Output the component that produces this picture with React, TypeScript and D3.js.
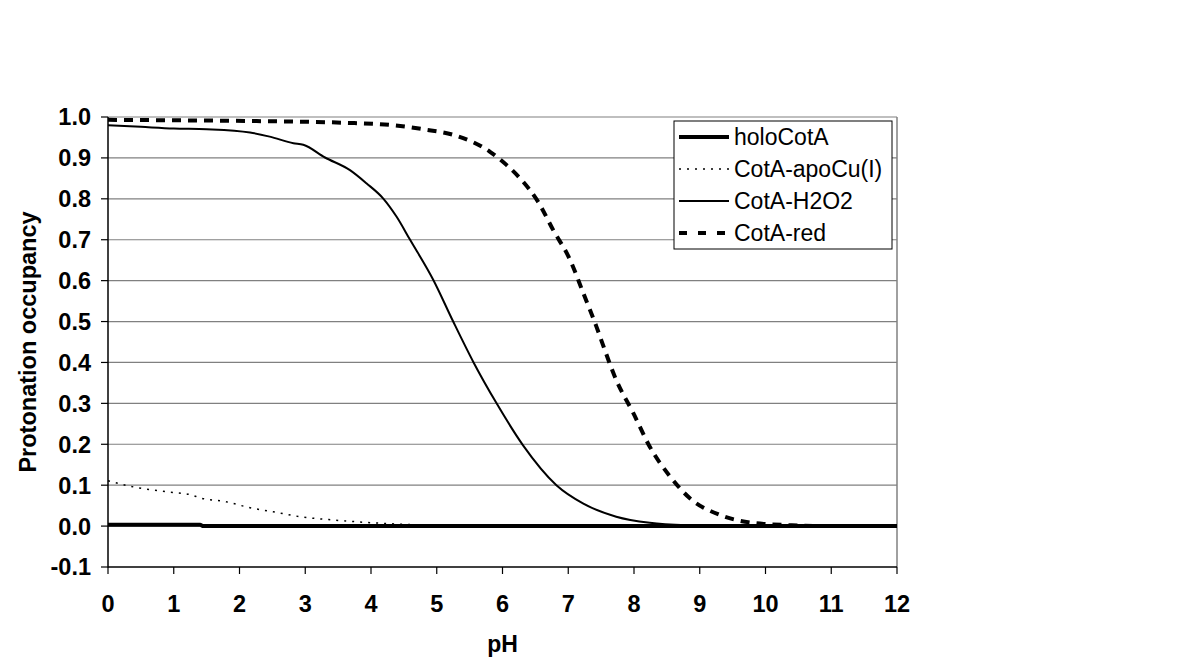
import React from "react";
import * as d3 from "d3";

const yTicks = [-0.1, 0, 0.1, 0.2, 0.3, 0.4, 0.5, 0.6, 0.7, 0.8, 0.9, 1.0];
const xTicks = [0, 1, 2, 3, 4, 5, 6, 7, 8, 9, 10, 11, 12];

const holoPH = [0, 1.4, 1.45, 12];
const holoVal = [0.003, 0.003, 0.0, 0.0];

const apoPH = [0, 0.41, 0.89, 1.27, 1.4, 1.78, 2.16, 2.51, 2.92, 3.42, 3.93, 4.39, 5.0, 6.0, 12];
const apoVal = [0.111, 0.095, 0.084, 0.076, 0.069, 0.06, 0.045, 0.035, 0.023, 0.015, 0.009, 0.005, 0.002, 0.0, 0.0];

const h2o2PH = [0, 0.5, 1, 1.5, 2.16, 2.46, 2.82, 2.97, 3.3, 3.68, 3.93, 4.19, 4.39, 4.59, 4.95, 5.25, 5.56, 5.91, 6.31, 6.82, 7.23, 7.73, 8.24, 8.8, 9.5, 12];
const h2o2Val = [0.98, 0.976, 0.972, 0.97, 0.962, 0.952, 0.936, 0.932, 0.901, 0.87, 0.838, 0.8, 0.756, 0.701, 0.601, 0.5, 0.4, 0.3, 0.198, 0.1, 0.055, 0.023, 0.008, 0.002, 0.0, 0.0];

const redPH = [0, 1, 2.26, 3.57, 4.34, 4.8, 5.3, 5.81, 6.06, 6.29, 6.54, 6.77, 7.03, 7.23, 7.43, 7.51, 7.73, 7.99, 8.24, 8.55, 8.85, 9.31, 9.81, 10.4, 10.9, 12];
const redVal = [0.993, 0.992, 0.99, 0.986, 0.98, 0.97, 0.954, 0.915, 0.883, 0.846, 0.793, 0.724, 0.65, 0.569, 0.487, 0.451, 0.357, 0.276, 0.194, 0.121, 0.068, 0.027, 0.008, 0.002, 0.0, 0.0];

const seriesNames = ["holoCotA", "CotA-apoCu(I)", "CotA-H2O2", "CotA-red"];

export default function App() {
  const left = 108, right = 897, top = 117, bottom = 567;
  const x = d3.scaleLinear().domain([0, 12]).range([left, right]);
  const y = d3.scaleLinear().domain([-0.1, 1.0]).range([bottom, top]);
  const mk = (xs: number[], ys: number[]) =>
    d3.line<number>().x((_, i) => x(xs[i])).y((_, i) => y(ys[i])).curve(d3.curveMonotoneX)(xs) || "";

  const styles = [
    { w: 4, dash: "none" },
    { w: 1.5, dash: "2,6" },
    { w: 2, dash: "none" },
    { w: 4, dash: "9,7" },
  ];
  const paths = [
    mk(holoPH, holoVal),
    mk(apoPH, apoVal),
    mk(h2o2PH, h2o2Val),
    mk(redPH, redVal),
  ];
  const font = "Liberation Sans, Arial, sans-serif";
  const lgX = 674, lgY = 121, lgW = 218, lgH = 128;

  return (
    <div style={{ position: "absolute", left: 0, top: 0 }}>
      <svg width={1200} height={668} style={{ display: "block", background: "#fff" }}>
        {yTicks.filter((t) => t > -0.05).map((t) => (
          <line key={"g" + t} x1={left} x2={right} y1={y(t)} y2={y(t)} stroke="#808080" strokeWidth={1.2} />
        ))}
        <line x1={right} x2={right} y1={top} y2={bottom} stroke="#808080" strokeWidth={1.5} />
        <line x1={left} x2={left} y1={top} y2={bottom + 0.5} stroke="#000" strokeWidth={1.5} />
        <line x1={left} x2={right} y1={bottom} y2={bottom} stroke="#000" strokeWidth={1.5} />
        {yTicks.map((t) => (
          <g key={"y" + t}>
            <line x1={left - 7} x2={left} y1={y(t)} y2={y(t)} stroke="#000" strokeWidth={1.2} />
            <text x={left - 17} y={y(t)} dy="0.36em" textAnchor="end" fontFamily={font} fontWeight="bold" fontSize={23.5}>
              {t.toFixed(1)}
            </text>
          </g>
        ))}
        {xTicks.map((t) => (
          <g key={"x" + t}>
            <line x1={x(t)} x2={x(t)} y1={bottom} y2={bottom + 7} stroke="#000" strokeWidth={1.2} />
            <text x={x(t)} y={612} textAnchor="middle" fontFamily={font} fontWeight="bold" fontSize={23.5}>
              {t}
            </text>
          </g>
        ))}
        <text x={(left + right) / 2} y={652} textAnchor="middle" fontFamily={font} fontWeight="bold" fontSize={23}>
          pH
        </text>
        <text
          transform={`translate(36,${(top + bottom) / 2}) rotate(-90)`}
          textAnchor="middle"
          fontFamily={font}
          fontWeight="bold"
          fontSize={23.5}
        >
          Protonation occupancy
        </text>
        {paths.map((p, i) => (
          <path key={"p" + i} d={p} fill="none" stroke="#000" strokeWidth={styles[i].w} strokeDasharray={styles[i].dash} />
        ))}
        <rect x={lgX} y={lgY} width={lgW} height={lgH} fill="#fff" stroke="#000" strokeWidth={1} />
        {seriesNames.map((n, i) => {
          const cy = 137 + i * 32;
          return (
            <g key={"l" + i}>
              <line
                x1={679}
                x2={729}
                y1={cy}
                y2={cy}
                stroke="#000"
                strokeWidth={styles[i].w}
                strokeDasharray={i === 3 ? "8,11" : styles[i].dash}
              />
              <text x={734} y={cy} dy="0.36em" fontFamily={font} fontSize={23}>
                {n}
              </text>
            </g>
          );
        })}
      </svg>
    </div>
  );
}
